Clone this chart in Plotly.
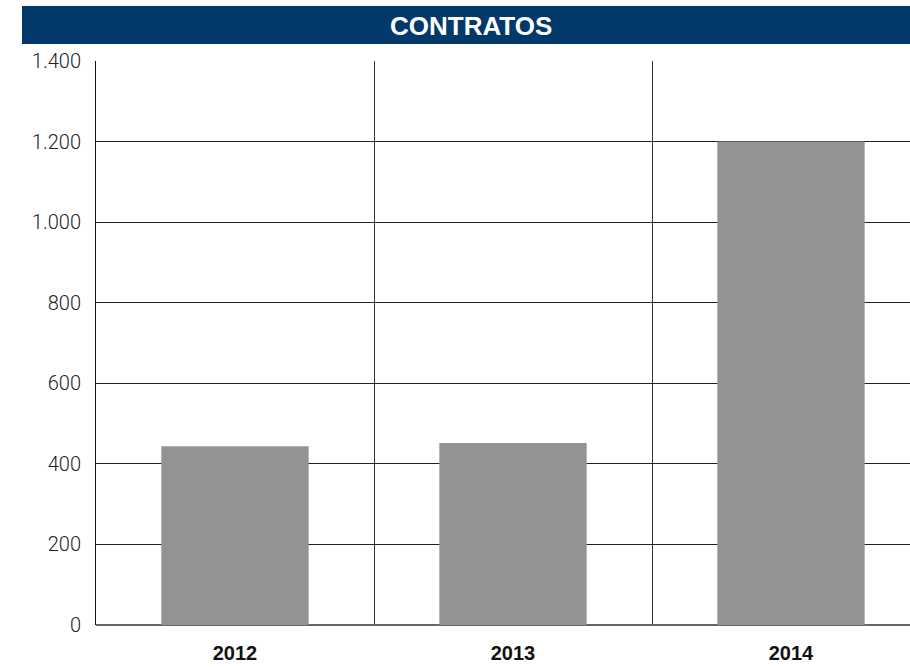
import plotly.graph_objects as go

# datos
anios = ["2012", "2013", "2014"]
contratos = [444, 452, 1200]
y_ticks = [0, 200, 400, 600, 800, 1000, 1200, 1400]

W, H = 910, 667
ML, MT, MB = 96, 61, 42
plot_w = W - ML
plot_h = H - MT - MB

fig = go.Figure()
fig.add_trace(go.Bar(
    x=anios, y=contratos,
    marker=dict(color="#939393", line=dict(width=0)),
    width=0.53,
))

# barra de titulo
fig.add_shape(
    type="rect", xref="paper", yref="paper",
    x0=(22 - ML) / plot_w, x1=1.0,
    y0=1 + (MT - 44) / plot_h, y1=1 + (MT - 6) / plot_h,
    fillcolor="#03386b", line=dict(width=0), layer="above",
)
fig.add_annotation(
    text="<b>CONTRATOS</b>", xref="paper", yref="paper",
    x=(471 - ML) / plot_w, y=1 + (MT - 26) / plot_h,
    xanchor="center", yanchor="middle", showarrow=False,
    font=dict(family="Liberation Sans, Arial", size=26, color="white"),
)

fig.update_layout(
    width=W, height=H,
    margin=dict(l=ML, r=0, t=MT, b=MB),
    plot_bgcolor="white", paper_bgcolor="white",
    separators=",.",
    showlegend=False,
    font=dict(family="Liberation Sans, Arial", color="#222"),
)
fig.update_xaxes(
    type="category",
    range=[-0.5, 2.5 - 20 / 278],
    tickson="boundaries",
    showgrid=True, gridcolor="#333", gridwidth=1,
    ticks="", ticklabelstandoff=14,
    tickfont=dict(size=20, color="#111", family="Liberation Sans, Arial", weight="bold"),
    showline=False, zeroline=False,
)
fig.update_yaxes(
    range=[0, 1400],
    tickvals=y_ticks,
    tickformat=",d", separatethousands=True,
    showgrid=True, gridcolor="#222", gridwidth=1,
    zeroline=True, zerolinecolor="#666", zerolinewidth=2,
    showline=True, linecolor="#111", linewidth=1,
    ticks="", ticklabelstandoff=10,
    tickfont=dict(size=20, color="#222", family="Roboto, Liberation Sans", weight=300),
)

fig.write_html("out.html", config={"displayModeBar": False},
               post_script="document.body.style.margin='0';")
